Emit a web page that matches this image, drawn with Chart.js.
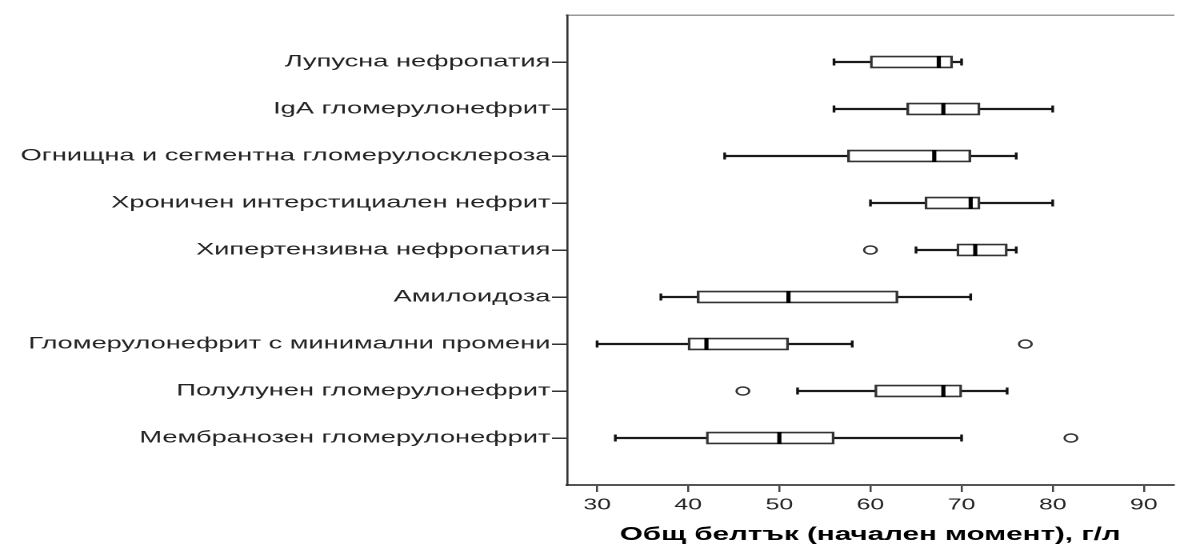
<!DOCTYPE html>
<html><head><meta charset="utf-8">
<script src="https://cdn.jsdelivr.net/npm/chart.js@4.4.1/dist/chart.umd.min.js"></script>
<style>
html,body{margin:0;padding:0;background:#fff;overflow:hidden;width:1178px;height:544px;}
#wrap{position:absolute;left:0;top:0;width:742px;height:544px;transform:scaleX(1.6);transform-origin:0 0;}
</style></head><body>
<div id="wrap"><canvas id="c"></canvas></div>
<script>
const categories = [
  'Лупусна нефропатия',
  'IgA гломерулонефрит',
  'Огнищна и сегментна гломерулосклероза',
  'Хроничен интерстициален нефрит',
  'Хипертензивна нефропатия',
  'Амилоидоза',
  'Гломерулонефрит с минимални промени',
  'Полулунен гломерулонефрит',
  'Мембранозен гломерулонефрит'
];
const whiskerMin = [56, 56, 44, 60, 65, 37, 30, 52, 32];
const q1         = [60, 64, 57.5, 66, 69.5, 41, 40, 60.5, 42];
const median     = [67.5, 68, 67, 71, 71.5, 51, 42, 68, 50];
const q3         = [69, 72, 71, 72, 75, 63, 51, 70, 56];
const whiskerMax = [70, 80, 76, 80, 76, 71, 58, 75, 70];
const outlierCats   = ['Хипертензивна нефропатия', 'Гломерулонефрит с минимални промени', 'Полулунен гломерулонефрит', 'Мембранозен гломерулонефрит'];
const outlierValues = [60, 77, 46, 82];
const xTicks = [30, 40, 50, 60, 70, 80, 90];
const xMin = 26.7, xMax = 93.25;
const axisTitle = 'Общ белтък (начален момент), г/л';

const yLabels = ['', ...categories, ''];
const pad = a => [null, ...a, null];
const boxData = pad(categories.map((c, i) => [q1[i], q3[i]]));
const whiskerData = pad(categories.map((c, i) => [whiskerMin[i], whiskerMax[i]]));
const medianPts = categories.map((c, i) => ({x: median[i], y: c}));
const capPts = categories.flatMap((c, i) => [{x: whiskerMin[i], y: c}, {x: whiskerMax[i], y: c}]);
const outPts = outlierCats.map((c, i) => ({x: outlierValues[i], y: c}));

const FONT = '"Liberation Sans", Arial, sans-serif';

new Chart(document.getElementById('c'), {
  type: 'bar',
  data: {
    labels: yLabels,
    datasets: [
      {type: 'bar', data: whiskerData, backgroundColor: '#1a1a1a', borderWidth: 0, barThickness: 1.7, grouped: false, order: 3},
      {type: 'bar', data: boxData, backgroundColor: '#fff', borderColor: '#333', borderWidth: 1.7, borderSkipped: false, barThickness: 12, grouped: false, order: 2},
      {type: 'line', data: capPts, showLine: false, pointStyle: 'line', rotation: 90, pointRadius: 3.5, pointBorderWidth: 1.7, pointBorderColor: '#111', order: 1},
      {type: 'line', data: medianPts, showLine: false, pointStyle: 'line', rotation: 90, pointRadius: 6, pointBorderWidth: 2.6, pointBorderColor: '#000', order: 0},
      {type: 'line', data: outPts, showLine: false, pointStyle: 'circle', pointRadius: 4, pointBorderWidth: 1.4, pointBorderColor: '#333', pointBackgroundColor: '#fff', order: 0}
    ]
  },
  options: {
    indexAxis: 'y',
    responsive: true,
    maintainAspectRatio: false,
    animation: false,
    devicePixelRatio: 2,
    layout: {padding: {top: 15, left: 0, right: 0, bottom: 0}},
    plugins: {legend: {display: false}, tooltip: {enabled: false}},
    scales: {
      x: {
        type: 'linear', position: 'bottom', min: xMin, max: xMax,
        afterBuildTicks: s => { s.ticks = xTicks.map(v => ({value: v})); },
        afterFit: s => { s.height = 59; },
        ticks: {font: {family: FONT, size: 15.5}, color: '#222', padding: 4, maxRotation: 0},
        grid: {drawOnChartArea: false, tickLength: 7, tickWidth: 1.25, lineWidth: 1.25, tickColor: '#444'},
        border: {display: true, color: '#555', width: 2},
        title: {display: true, text: axisTitle, font: {family: FONT, size: 18.5, weight: 'bold', lineHeight: 1}, color: '#000', padding: {top: 0, bottom: 0}}
      },
      x2: {
        type: 'linear', position: 'top', display: true,
        afterFit: s => { s.height = 0; },
        ticks: {display: false},
        grid: {display: false},
        border: {display: true, color: '#999', width: 1.5}
      },
      y: {
        type: 'category', position: 'left', offset: false,
        afterFit: s => { s.width = 354.4; },
        ticks: {autoSkip: false, padding: 1, color: '#222', font: {family: FONT, size: 17}},
        grid: {
          offset: false, drawOnChartArea: false, tickLength: 9.4, tickWidth: 1.5, lineWidth: 1.5,
          tickColor: c => (c.index === 0 || c.index === yLabels.length - 1) ? 'rgba(0,0,0,0)' : '#333'
        },
        border: {display: true, color: '#333', width: 1.3}
      }
    }
  }
});
</script>
</body></html>
